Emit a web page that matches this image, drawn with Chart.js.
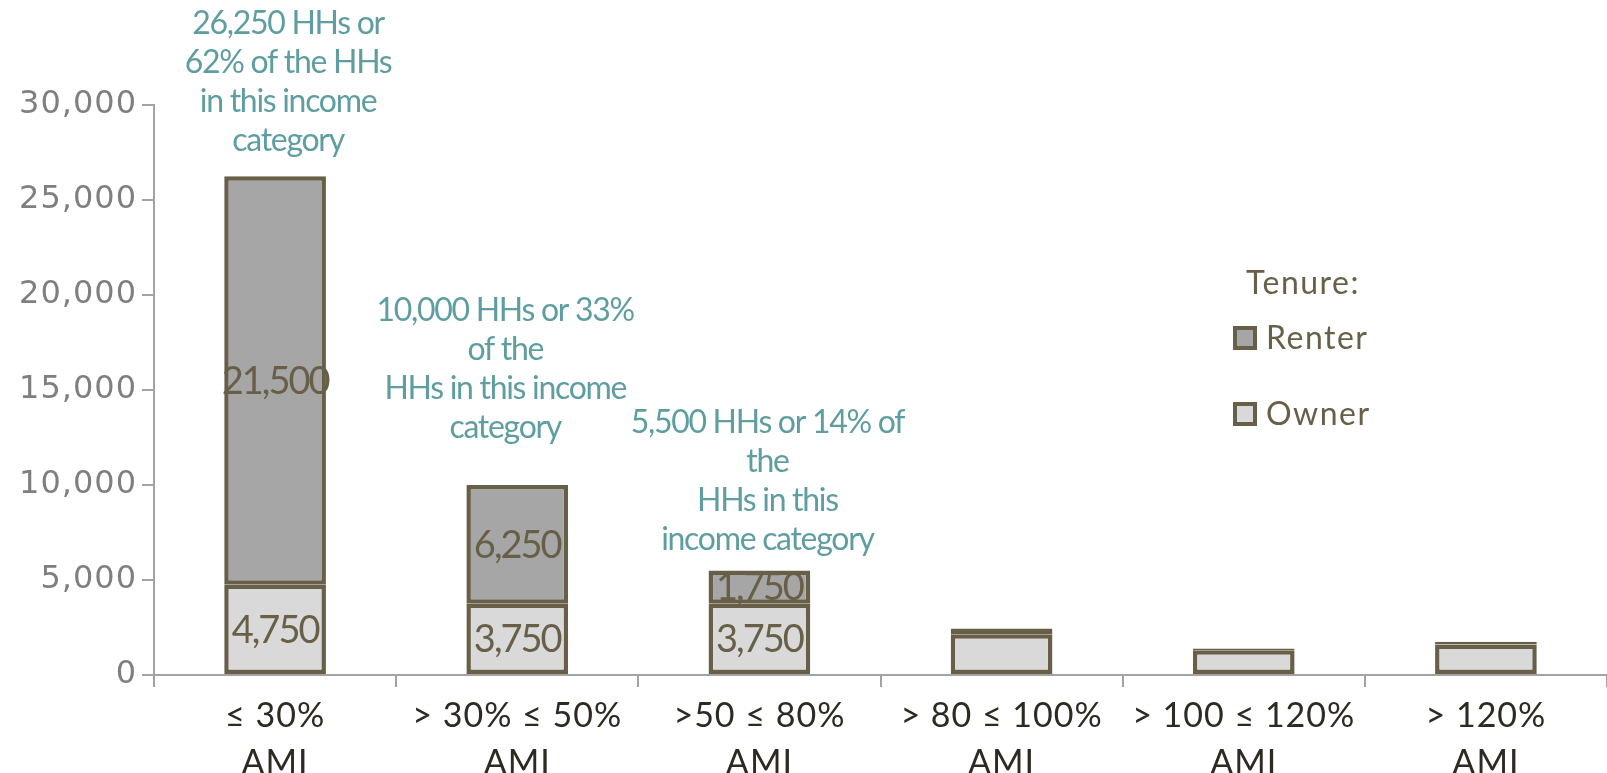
<!DOCTYPE html>
<html>
<head>
<meta charset="utf-8">
<script src="https://cdn.jsdelivr.net/npm/chart.js@4.4.1/dist/chart.umd.min.js"></script>
<style>
  html, body { margin: 0; padding: 0; background: #fff; overflow: hidden; }
  #chart { display: block; }
</style>
</head>
<body>
<canvas id="chart" width="1607" height="773"></canvas>
<script>
const categories = [
  ['≤ 30%', 'AMI'],
  ['> 30% ≤ 50%', 'AMI'],
  ['>50 ≤ 80%', 'AMI'],
  ['> 80 ≤ 100%', 'AMI'],
  ['> 100 ≤ 120%', 'AMI'],
  ['> 120%', 'AMI']
];
const ownerValues = [4750, 3750, 3750, 2150, 1300, 1600];
const renterValues = [21500, 6250, 1750, 300, 100, 150];
const labeledBars = [0, 1, 2];
const yMax = 30000;
const yStep = 5000;

const noteTexts = [
  ['26,250 HHs or', '62% of the HHs', 'in this income', 'category'],
  ['10,000 HHs or 33%', 'of the', 'HHs in this income', 'category'],
  ['5,500 HHs or 14% of', 'the', 'HHs in this', 'income category']
];

const BORDER = '#675f48';
const RENTER_FILL = '#a6a6a6';
const OWNER_FILL = '#d9d9d9';
const NOTE_COLOR = '#5f9ea0';
const AXIS_COLOR = '#a3a3a3';

// where each note sits: category index, value of the last line, pixel nudge
const notePlacement = [
  { index: 0, value: 28100, dx: 13 },
  { index: 1, value: 13000, dx: -12 },
  { index: 2, value: 7100, dx: 8 }
];

// axis text in the original is a wide face, open the tick letters a little
const wideTicks = {
  id: 'wideTicks',
  beforeDraw(chart) { chart.ctx.letterSpacing = '1px'; },
  afterDraw(chart) { chart.ctx.letterSpacing = '0px'; }
};

const valueLabels = {
  id: 'valueLabels',
  afterDatasetsDraw(chart) {
    const ctx = chart.ctx;
    ctx.save();
    ctx.font = '38px Lato';
    ctx.letterSpacing = '-2px';
    ctx.fillStyle = BORDER;
    ctx.textAlign = 'center';
    ctx.textBaseline = 'middle';
    chart.data.datasets.forEach((ds, di) => {
      const meta = chart.getDatasetMeta(di);
      meta.data.forEach((bar, i) => {
        if (!labeledBars.includes(i)) return;
        ctx.fillText(ds.data[i].toLocaleString('en-US'), bar.x, (bar.y + bar.base) / 2 + 1);
      });
    });
    ctx.restore();
  }
};

const notes = {
  id: 'notes',
  afterDraw(chart) {
    const ctx = chart.ctx;
    const xs = chart.scales.x;
    const ys = chart.scales.y;
    const lineH = 39;
    ctx.save();
    ctx.font = '32px Lato';
    ctx.letterSpacing = '-1.3px';
    ctx.fillStyle = NOTE_COLOR;
    ctx.textAlign = 'center';
    ctx.textBaseline = 'middle';
    notePlacement.forEach((p, n) => {
      const lines = noteTexts[n];
      const x = xs.getPixelForValue(p.index) + p.dx;
      const yLast = ys.getPixelForValue(p.value);
      lines.forEach((t, k) => {
        ctx.fillText(t, x, yLast - (lines.length - 1 - k) * lineH);
      });
    });
    ctx.restore();
  }
};

const tenureLegend = {
  id: 'tenureLegend',
  afterDraw(chart) {
    const ctx = chart.ctx;
    ctx.save();
    ctx.fillStyle = BORDER;
    ctx.font = '32px Lato';
    ctx.letterSpacing = '1.5px';
    ctx.textAlign = 'center';
    ctx.textBaseline = 'middle';
    ctx.fillText('Tenure:', 1303, 284);
    const items = [
      { ds: chart.data.datasets[1], y: 338 },
      { ds: chart.data.datasets[0], y: 414 }
    ];
    ctx.textAlign = 'left';
    items.forEach((it) => {
      ctx.fillStyle = it.ds.backgroundColor;
      ctx.fillRect(1233, it.y - 12, 24, 24);
      ctx.strokeStyle = BORDER;
      ctx.lineWidth = 4;
      ctx.strokeRect(1235, it.y - 10, 20, 20);
      ctx.fillStyle = BORDER;
      ctx.fillText(it.ds.label, 1266, it.y + 1);
    });
    ctx.restore();
  }
};

new Chart(document.getElementById('chart'), {
  type: 'bar',
  data: {
    labels: categories,
    datasets: [
      {
        label: 'Owner',
        data: ownerValues,
        backgroundColor: OWNER_FILL,
        borderColor: BORDER,
        borderWidth: 4.5,
        borderSkipped: false,
        categoryPercentage: 1,
        barPercentage: 0.42
      },
      {
        label: 'Renter',
        data: renterValues,
        backgroundColor: RENTER_FILL,
        borderColor: BORDER,
        borderWidth: 4.5,
        borderSkipped: false,
        categoryPercentage: 1,
        barPercentage: 0.42
      }
    ]
  },
  options: {
    responsive: false,
    animation: false,
    layout: { padding: { top: 105, right: 0, left: 0, bottom: 0 } },
    plugins: {
      legend: { display: false },
      tooltip: { enabled: false }
    },
    scales: {
      x: {
        stacked: true,
        afterFit: (scale) => { scale.height = 98; },
        grid: {
          drawOnChartArea: false,
          drawTicks: true,
          tickLength: 12,
          offset: true,
          color: AXIS_COLOR,
          lineWidth: 2
        },
        border: { display: true, color: AXIS_COLOR, width: 2 },
        ticks: {
          color: '#2d2a22',
          font: { family: 'Lato', size: 34, lineHeight: 1.38 },
          padding: 6,
          maxRotation: 0,
          autoSkip: false
        }
      },
      y: {
        stacked: true,
        min: 0,
        max: yMax,
        afterFit: (scale) => { scale.width = 154; },
        grid: {
          drawOnChartArea: false,
          drawTicks: true,
          tickLength: 12,
          color: AXIS_COLOR,
          lineWidth: 2
        },
        border: { display: true, color: AXIS_COLOR, width: 2 },
        ticks: {
          stepSize: yStep,
          color: '#7f7f7f',
          font: { family: 'DejaVu Sans', size: 32 },
          padding: 5,
          callback: (v) => v.toLocaleString('en-US')
        }
      }
    }
  },
  plugins: [wideTicks, valueLabels, notes, tenureLegend]
});
</script>
</body>
</html>
